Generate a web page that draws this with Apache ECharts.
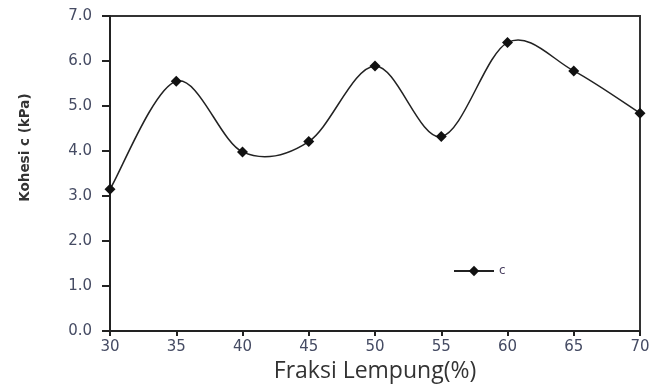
<!DOCTYPE html>
<html>
<head>
<meta charset="utf-8">
<script src="https://cdn.jsdelivr.net/npm/echarts@6/dist/echarts.min.js"></script>
<style>html,body{margin:0;padding:0;background:#fff;}#c{width:654px;height:390px;}</style>
</head>
<body>
<div id="c"></div>
<script>
var xValues = [30, 35, 40, 45, 50, 55, 60, 65, 70];
var cValues = [3.15, 5.55, 3.98, 4.21, 5.89, 4.32, 6.41, 5.78, 4.84];
var seriesName = 'c';
var xTitle = 'Fraksi Lempung(%)';
var yTitle = 'Kohesi c (kPa)';

var points = xValues.map(function (x, i) { return [x, cValues[i]]; });
var n = points.length;

function curveItem(params, api) {
  var i = params.dataIndex;
  if (i >= n - 1) return null;
  var p0 = api.coord(points[Math.max(i - 1, 0)]);
  var p1 = api.coord(points[i]);
  var p2 = api.coord(points[i + 1]);
  var p3 = api.coord(points[Math.min(i + 2, n - 1)]);
  var t = 1 / 6;
  return {
    type: 'bezierCurve',
    shape: {
      x1: p1[0], y1: p1[1], x2: p2[0], y2: p2[1],
      cpx1: p1[0] + (p2[0] - p0[0]) * t, cpy1: p1[1] + (p2[1] - p0[1]) * t,
      cpx2: p2[0] - (p3[0] - p1[0]) * t, cpy2: p2[1] - (p3[1] - p1[1]) * t
    },
    style: { stroke: '#222', lineWidth: 1.5, fill: null }
  };
}

var chart = echarts.init(document.getElementById('c'));
chart.setOption({
  animation: false,
  backgroundColor: '#fff',
  grid: { left: 110, top: 16, right: 14, bottom: 59, show: true, borderColor: '#333', borderWidth: 2 },
  legend: {
    left: 453, top: 265, padding: 0, itemWidth: 40, itemHeight: 13,
    textStyle: { fontFamily: 'DejaVu Sans', fontSize: 12, color: '#4a4060' },
    data: [{ name: seriesName, lineStyle: { color: '#222', width: 2, opacity: 1 } }]
  },
  xAxis: {
    type: 'value', min: 30, max: 70, interval: 5,
    name: xTitle, nameLocation: 'middle', nameGap: 28,
    nameTextStyle: { fontFamily: 'Open Sans', fontSize: 23, color: '#333' },
    axisLine: { lineStyle: { color: '#222', width: 2 } },
    axisTick: { inside: false, length: 5, lineStyle: { color: '#222', width: 2 } },
    axisLabel: { fontFamily: 'DejaVu Sans', fontSize: 15, color: '#454b63', margin: 9 },
    splitLine: { show: false }
  },
  yAxis: {
    type: 'value', min: 0, max: 7, interval: 1,
    name: yTitle, nameLocation: 'middle', nameGap: 78,
    nameTextStyle: { fontFamily: 'DejaVu Sans', fontWeight: 'bold', fontSize: 13.5, color: '#333', padding: [0, 0, 0, 52] },
    axisLine: { show: true, lineStyle: { color: '#222', width: 2 } },
    axisTick: { show: true, inside: false, length: 8, lineStyle: { color: '#222', width: 2 } },
    axisLabel: { fontFamily: 'DejaVu Sans', fontSize: 15, color: '#454b63', margin: 18,
      formatter: function (v) { return v.toFixed(1); } },
    splitLine: { show: false }
  },
  series: [{
    type: 'custom', silent: true, z: 2,
    renderItem: curveItem,
    data: points
  }, {
    name: seriesName, type: 'line', z: 3,
    data: points,
    symbol: 'diamond', symbolSize: 11,
    lineStyle: { color: '#222', width: 2, opacity: 0 },
    itemStyle: { color: '#111' }
  }]
});
</script>
</body>
</html>
